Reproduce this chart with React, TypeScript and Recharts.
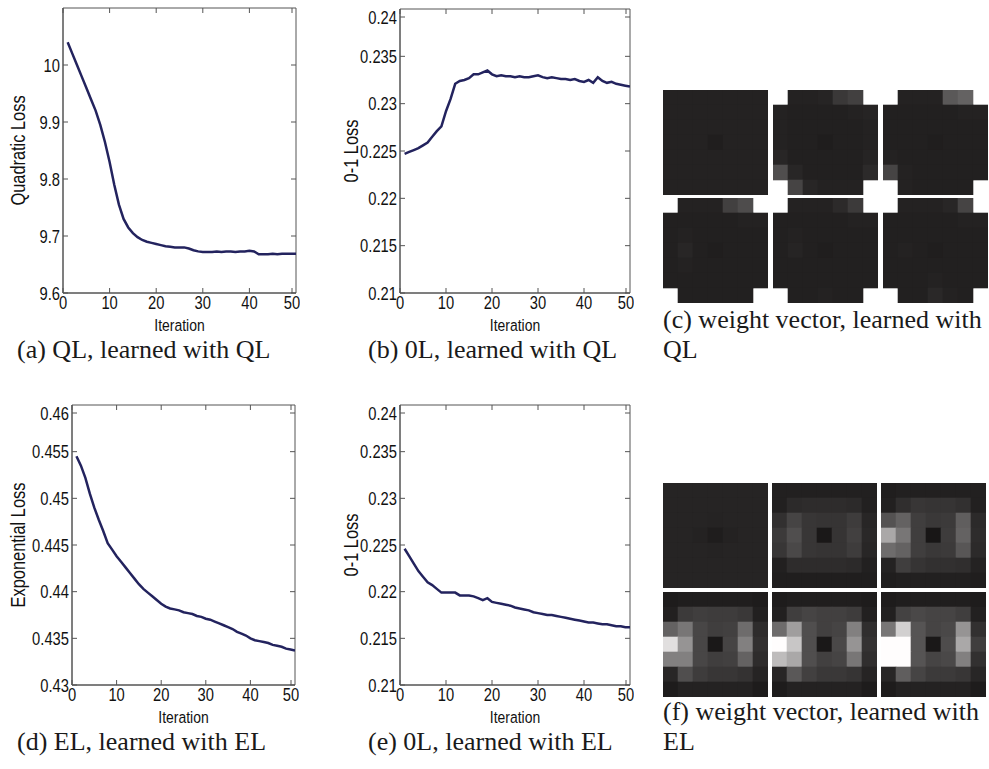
import React from "react";
import { LineChart, Line, XAxis, YAxis, Label, ReferenceArea, ScatterChart, Scatter } from "recharts";

// x categories (iteration number)
const iterations = [
  1, 2, 3, 4, 5, 6, 7, 8, 9, 10, 11, 12, 13, 14, 15, 16, 17, 18, 19, 20, 21, 22, 23, 24, 25,
  26, 27, 28, 29, 30, 31, 32, 33, 34, 35, 36, 37, 38, 39, 40, 41, 42, 43, 44, 45, 46, 47, 48, 49, 50,
];
const xTicks = [0, 10, 20, 30, 40, 50];

// (a) quadratic loss, learned with QL
const qlLoss = [
  10.04, 10.02, 10.0, 9.98, 9.96, 9.94, 9.92, 9.895, 9.865, 9.83,
  9.79, 9.755, 9.73, 9.715, 9.705, 9.698, 9.693, 9.69, 9.688, 9.686,
  9.684, 9.682, 9.681, 9.68, 9.68, 9.68, 9.678, 9.675, 9.673, 9.672,
  9.672, 9.672, 9.673, 9.672, 9.673, 9.673, 9.672, 9.673, 9.673, 9.674,
  9.673, 9.668, 9.668, 9.668, 9.669, 9.668, 9.669, 9.669, 9.669, 9.669,
];
const qlTicks = [9.6, 9.7, 9.8, 9.9, 10];

// (b) 0-1 loss, learned with QL
const zeroOneQl = [
  0.2247, 0.2249, 0.2251, 0.2253, 0.2256, 0.2259, 0.2265, 0.2271, 0.2276, 0.2292,
  0.2305, 0.2321, 0.2324, 0.2325, 0.2327, 0.2331, 0.2331, 0.2333, 0.2335, 0.2331,
  0.2329, 0.233, 0.2329, 0.2329, 0.2328, 0.2329, 0.2328, 0.2328, 0.2329, 0.233,
  0.2328, 0.2327, 0.2328, 0.2327, 0.2326, 0.2326, 0.2325, 0.2326, 0.2324, 0.2323,
  0.2325, 0.2322, 0.2328, 0.2324, 0.2322, 0.2323, 0.2321, 0.232, 0.2319, 0.2318,
];
const zeroOneTicks = [0.21, 0.215, 0.22, 0.225, 0.23, 0.235, 0.24];

// (d) exponential loss, learned with EL
const elLoss = [
  0.4545, 0.4535, 0.4522, 0.4505, 0.449, 0.4477, 0.4465, 0.4452, 0.4445, 0.4438,
  0.4432, 0.4426, 0.442, 0.4414, 0.4408, 0.4403, 0.4399, 0.4395, 0.4391, 0.4387,
  0.4384, 0.4382, 0.4381, 0.438, 0.4378, 0.4377, 0.4376, 0.4374, 0.4373, 0.4371,
  0.437, 0.4368, 0.4366, 0.4364, 0.4362, 0.436, 0.4357, 0.4355, 0.4353, 0.435,
  0.4348, 0.4347, 0.4346, 0.4345, 0.4343, 0.4342, 0.4341, 0.4339, 0.4338, 0.4337,
];
const elTicks = [0.43, 0.435, 0.44, 0.445, 0.45, 0.455, 0.46];

// (e) 0-1 loss, learned with EL
const zeroOneEl = [
  0.2246, 0.2238, 0.223, 0.2222, 0.2216, 0.221, 0.2207, 0.2203, 0.2199, 0.2199,
  0.2199, 0.2199, 0.2196, 0.2196, 0.2196, 0.2195, 0.2193, 0.2191, 0.2193, 0.2189,
  0.2188, 0.2187, 0.2186, 0.2185, 0.2183, 0.2182, 0.2181, 0.218, 0.2178, 0.2177,
  0.2176, 0.2175, 0.2175, 0.2174, 0.2173, 0.2172, 0.2171, 0.217, 0.2169, 0.2168,
  0.2167, 0.2167, 0.2166, 0.2165, 0.2165, 0.2164, 0.2163, 0.2163, 0.2162, 0.2162,
];

// weight vectors, 7x7 gray levels (-1 = no pixel)
const qlTiles = [
  [
    [36, 36, 36, 36, 36, 36, 36],
    [36, 36, 36, 36, 36, 36, 36],
    [36, 36, 36, 36, 36, 36, 36],
    [36, 36, 36, 32, 36, 36, 36],
    [36, 36, 36, 36, 36, 36, 36],
    [36, 36, 36, 36, 36, 36, 36],
    [36, 36, 36, 36, 36, 36, 36],
  ],
  [
    [-1, 36, 36, 38, 58, 66, -1],
    [36, 34, 34, 34, 34, 36, 38],
    [36, 34, 34, 34, 34, 34, 36],
    [36, 34, 34, 31, 34, 34, 36],
    [40, 34, 34, 34, 34, 34, 38],
    [80, 40, 34, 34, 34, 34, 44],
    [-1, 70, 40, 36, 36, 36, -1],
  ],
  [
    [-1, 36, 36, 36, 90, 100, -1],
    [34, 34, 34, 34, 34, 36, 36],
    [34, 34, 34, 34, 34, 34, 34],
    [34, 34, 34, 32, 34, 34, 34],
    [36, 34, 34, 34, 34, 34, 34],
    [70, 36, 34, 34, 34, 34, 34],
    [-1, 36, 34, 34, 34, 34, -1],
  ],
  [
    [-1, 36, 36, 36, 66, 78, -1],
    [34, 34, 34, 34, 34, 36, 36],
    [34, 36, 34, 34, 34, 34, 34],
    [34, 40, 34, 32, 34, 34, 34],
    [34, 36, 34, 34, 34, 34, 34],
    [34, 34, 34, 34, 34, 34, 34],
    [-1, 34, 34, 34, 34, 34, -1],
  ],
  [
    [-1, 36, 36, 36, 44, 60, -1],
    [34, 34, 34, 34, 34, 36, 36],
    [34, 36, 34, 34, 34, 34, 34],
    [34, 38, 34, 32, 34, 34, 34],
    [34, 34, 34, 34, 34, 34, 34],
    [34, 34, 34, 34, 34, 34, 34],
    [-1, 34, 34, 36, 34, 34, -1],
  ],
  [
    [-1, 36, 36, 36, 40, 70, -1],
    [34, 34, 34, 34, 34, 36, 36],
    [34, 34, 34, 34, 34, 34, 34],
    [34, 36, 34, 32, 34, 34, 34],
    [34, 34, 34, 34, 34, 34, 34],
    [34, 34, 34, 36, 34, 34, 34],
    [-1, 34, 34, 42, 36, 34, -1],
  ],
];

const elTiles = [
  [
    [38, 38, 38, 38, 38, 38, 38],
    [38, 38, 38, 38, 38, 38, 38],
    [38, 38, 38, 37, 38, 38, 38],
    [38, 38, 36, 31, 36, 38, 38],
    [38, 38, 38, 37, 38, 38, 38],
    [38, 38, 38, 38, 38, 38, 38],
    [38, 38, 38, 38, 38, 38, 38],
  ],
  [
    [34, 34, 34, 34, 34, 34, 34],
    [34, 44, 46, 46, 46, 44, 34],
    [50, 70, 56, 54, 54, 62, 40],
    [60, 80, 56, 26, 54, 66, 42],
    [56, 74, 56, 54, 54, 62, 40],
    [34, 46, 46, 46, 46, 44, 34],
    [32, 32, 32, 32, 32, 32, 32],
  ],
  [
    [32, 34, 34, 34, 34, 34, 34],
    [34, 48, 56, 54, 54, 50, 34],
    [84, 100, 64, 58, 60, 96, 44],
    [170, 120, 64, 24, 62, 100, 46],
    [110, 100, 64, 58, 60, 88, 44],
    [36, 64, 54, 50, 50, 48, 36],
    [32, 34, 34, 34, 34, 34, 32],
  ],
  [
    [30, 32, 32, 32, 32, 32, 30],
    [34, 60, 64, 62, 62, 58, 34],
    [100, 120, 72, 64, 66, 110, 46],
    [225, 150, 72, 26, 70, 130, 50],
    [130, 130, 72, 64, 66, 100, 46],
    [40, 80, 62, 56, 56, 52, 38],
    [30, 36, 36, 36, 36, 36, 30],
  ],
  [
    [30, 32, 32, 32, 32, 32, 30],
    [34, 64, 70, 66, 66, 62, 34],
    [110, 160, 80, 66, 70, 130, 48],
    [255, 200, 80, 26, 74, 150, 52],
    [190, 170, 80, 66, 70, 120, 48],
    [40, 90, 66, 58, 58, 54, 38],
    [30, 36, 36, 36, 36, 36, 30],
  ],
  [
    [30, 32, 32, 32, 32, 32, 30],
    [34, 68, 74, 70, 70, 64, 34],
    [120, 210, 86, 70, 74, 150, 50],
    [255, 255, 86, 26, 78, 170, 64],
    [255, 255, 86, 70, 74, 130, 50],
    [40, 96, 70, 60, 60, 56, 40],
    [30, 36, 36, 36, 36, 36, 30],
  ],
];

const LINE_COLOR = "#23235e";
const AXIS_COLOR = "#555";
const sansFont = "'Liberation Sans', Arial, sans-serif";
const serifFont = "'Liberation Serif', 'Times New Roman', serif";
const NARROW = 0.82; // squeeze to look like Helvetica Narrow
const TICK_LEN = 5;
const TILE = 105;

type PanelProps = {
  left: number;
  top: number;
  yWidth: number;
  plotW: number;
  plotH: number;
  values: number[];
  domain: [number, number];
  ticks: number[];
  yLabel: string;
  labelX: number;
};

const LossPanel = ({ left, top, yWidth, plotW, plotH, values, domain, ticks, yLabel, labelX }: PanelProps) => {
  const data = iterations.map((it, i) => ({ it, loss: values[i] }));
  const plotTop = 1;
  const plotBottom = plotTop + plotH;
  const plotLeft = yWidth;
  const plotRight = yWidth + plotW;

  // x tick: inner marks at bottom and top, narrow label below
  const xTick = (p: any) => (
    <g>
      <line x1={p.x} x2={p.x} y1={plotBottom} y2={plotBottom - TICK_LEN} stroke={AXIS_COLOR} />
      <line x1={p.x} x2={p.x} y1={plotTop} y2={plotTop + TICK_LEN} stroke={AXIS_COLOR} />
      <text
        transform={`translate(${p.x}, ${plotBottom + 16}) scale(${NARROW}, 1)`}
        textAnchor="middle"
        fontSize={18}
        fontFamily={sansFont}
        fill="#111"
      >
        {p.payload.value}
      </text>
    </g>
  );

  // y tick: inner marks at left and right, narrow label on the left
  const yTick = (p: any) => (
    <g>
      <line x1={plotLeft} x2={plotLeft + TICK_LEN} y1={p.y} y2={p.y} stroke={AXIS_COLOR} />
      <line x1={plotRight} x2={plotRight - TICK_LEN} y1={p.y} y2={p.y} stroke={AXIS_COLOR} />
      <text
        transform={`translate(${plotLeft - 3}, ${p.y}) scale(${NARROW}, 1)`}
        textAnchor="end"
        dominantBaseline="central"
        fontSize={18}
        fontFamily={sansFont}
        fill="#111"
      >
        {p.payload.value}
      </text>
    </g>
  );

  return (
    <div style={{ position: "absolute", left, top: top - plotTop }}>
      <LineChart
        width={plotRight + 4}
        height={plotBottom + 42}
        data={data}
        margin={{ top: plotTop, right: 4, bottom: 0, left: 0 }}
      >
        <XAxis
          dataKey="it"
          type="number"
          domain={[0, 50]}
          ticks={xTicks}
          allowDataOverflow
          height={42}
          tickLine={false}
          stroke={AXIS_COLOR}
          tick={xTick}
        >
          <Label
            content={({ viewBox }: any) => (
              <text
                transform={`translate(${viewBox.x + viewBox.width / 2}, ${viewBox.y + 38}) scale(${NARROW}, 1)`}
                textAnchor="middle"
                fontSize={17}
                fontFamily={sansFont}
                fill="#111"
              >
                Iteration
              </text>
            )}
          />
        </XAxis>
        <YAxis
          type="number"
          domain={domain}
          ticks={ticks}
          allowDataOverflow
          width={yWidth}
          tickLine={false}
          stroke={AXIS_COLOR}
          tick={yTick}
        >
          <Label
            content={({ viewBox }: any) => {
              const cx = viewBox.x + labelX;
              const cy = viewBox.y + viewBox.height / 2;
              return (
                <text
                  transform={`translate(${cx}, ${cy}) rotate(-90) scale(${NARROW}, 1)`}
                  textAnchor="middle"
                  dominantBaseline="central"
                  fontSize={20}
                  fontFamily={sansFont}
                  fill="#111"
                >
                  {yLabel}
                </text>
              );
            }}
          />
        </YAxis>
        <ReferenceArea
          x1={0}
          x2={50}
          y1={domain[0]}
          y2={domain[1]}
          fill="none"
          stroke={AXIS_COLOR}
          strokeWidth={1}
          ifOverflow="visible"
        />
        <Line
          type="linear"
          dataKey="loss"
          stroke={LINE_COLOR}
          strokeWidth={2.5}
          dot={false}
          isAnimationActive={false}
        />
      </LineChart>
    </div>
  );
};

const half = TILE / 14;

const CellShape = (props: any) => {
  const { cx, cy, payload } = props;
  const g = payload.v;
  const gb = g - 2 < 0 ? 0 : g - 2;
  return (
    <rect
      x={cx - half - 0.3}
      y={cy - half - 0.3}
      width={half * 2 + 0.6}
      height={half * 2 + 0.6}
      fill={`rgb(${g},${gb},${gb})`}
    />
  );
};

const Tile = ({ grid, left, top }: { grid: number[][]; left: number; top: number }) => {
  const cells: { col: number; row: number; v: number }[] = [];
  grid.forEach((row, r) =>
    row.forEach((v, c) => {
      if (v >= 0) cells.push({ col: c + 0.5, row: r + 0.5, v });
    })
  );
  return (
    <div style={{ position: "absolute", left, top }}>
      <ScatterChart width={TILE} height={TILE} margin={{ top: 0, right: 0, bottom: 0, left: 0 }}>
        <XAxis type="number" dataKey="col" domain={[0, 7]} hide />
        <YAxis type="number" dataKey="row" domain={[0, 7]} reversed hide />
        <Scatter data={cells} shape={CellShape} isAnimationActive={false} />
      </ScatterChart>
    </div>
  );
};

const captionStyle: React.CSSProperties = {
  position: "absolute",
  fontFamily: serifFont,
  fontSize: 26,
  color: "#1a1a1a",
  whiteSpace: "nowrap",
  lineHeight: "30px",
};

export default function App() {
  return (
    <div style={{ position: "absolute", left: 0, top: 0, width: 989, height: 769, background: "#fff", overflow: "hidden" }}>
      <LossPanel left={0} top={8} yWidth={63} plotW={233} plotH={285} values={qlLoss} domain={[9.6, 10.1]} ticks={qlTicks} yLabel="Quadratic Loss" labelX={18} />
      <LossPanel left={320} top={9} yWidth={80} plotW={230} plotH={284} values={zeroOneQl} domain={[0.21, 0.24]} ticks={zeroOneTicks} yLabel="0-1 Loss" labelX={31} />
      <LossPanel left={0} top={405} yWidth={72} plotW={223} plotH={280} values={elLoss} domain={[0.43, 0.46]} ticks={elTicks} yLabel="Exponential Loss" labelX={18} />
      <LossPanel left={320} top={405} yWidth={80} plotW={230} plotH={280} values={zeroOneEl} domain={[0.21, 0.24]} ticks={zeroOneTicks} yLabel="0-1 Loss" labelX={31} />

      {qlTiles.map((g, i) => (
        <Tile key={`q${i}`} grid={g} left={663 + (i % 3) * 110} top={90 + Math.floor(i / 3) * 108} />
      ))}
      {elTiles.map((g, i) => (
        <Tile key={`e${i}`} grid={g} left={663 + (i % 3) * 109} top={483 + Math.floor(i / 3) * 109} />
      ))}

      <div style={{ ...captionStyle, left: 17, top: 335 }}>(a) QL, learned with QL</div>
      <div style={{ ...captionStyle, left: 368, top: 335 }}>(b) 0L, learned with QL</div>
      <div style={{ ...captionStyle, left: 663, top: 305 }}>(c) weight vector, learned with</div>
      <div style={{ ...captionStyle, left: 663, top: 335 }}>QL</div>
      <div style={{ ...captionStyle, left: 17, top: 727 }}>(d) EL, learned with EL</div>
      <div style={{ ...captionStyle, left: 368, top: 727 }}>(e) 0L, learned with EL</div>
      <div style={{ ...captionStyle, left: 663, top: 697 }}>(f) weight vector, learned with</div>
      <div style={{ ...captionStyle, left: 663, top: 727 }}>EL</div>
    </div>
  );
}
